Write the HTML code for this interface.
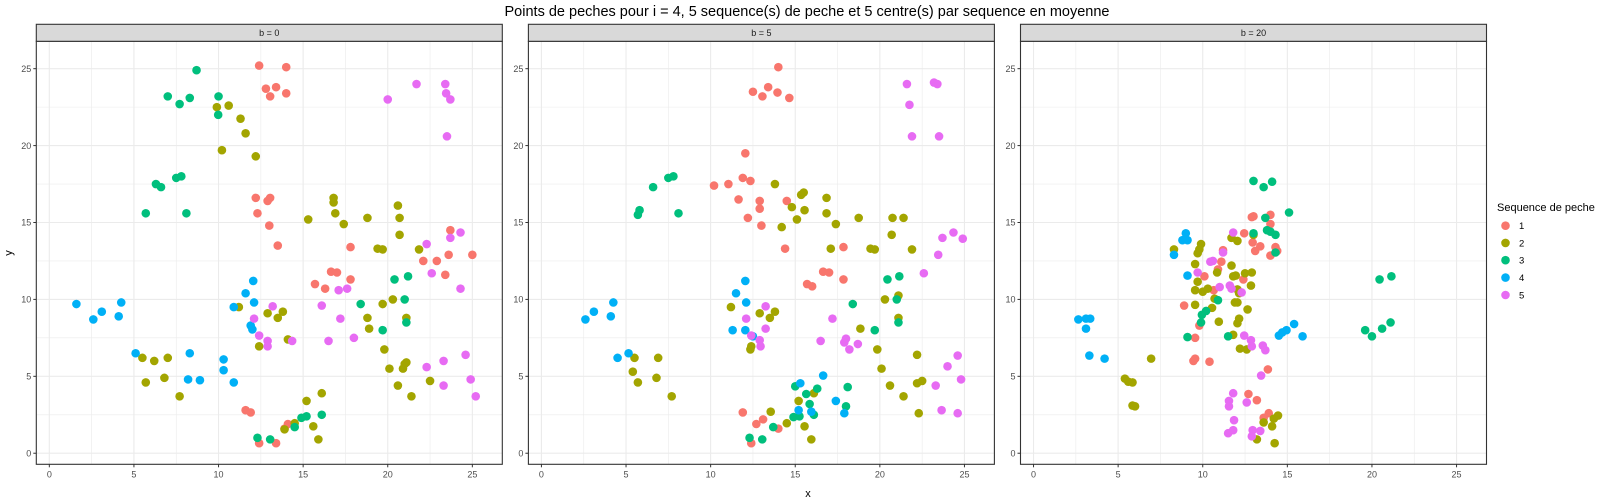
<!DOCTYPE html>
<html><head><meta charset="utf-8"><style>
html,body{margin:0;padding:0;background:#fff;}
svg{display:block;font-family:"Liberation Sans",Arial,sans-serif;}
</style></head><body>
<svg id="chart" width="1600" height="500" viewBox="0 0 1600 500" xmlns="http://www.w3.org/2000/svg">
<rect x="0" y="0" width="1600" height="500" fill="#fff"/>
<text x="807" y="16" font-size="14.5" text-anchor="middle" fill="#000">Points de peches pour i = 4, 5 sequence(s) de peche et 5 centre(s) par sequence en moyenne</text>
<text x="808" y="497" font-size="11" text-anchor="middle" fill="#000">x</text>
<text x="12" y="253" font-size="11" text-anchor="middle" fill="#000" transform="rotate(-90 12 253)">y</text>
<g id="panels"></g>
<g id="legend">
<text x="1497" y="211" font-size="11" fill="#000">Sequence de peche</text>
</g>
</svg>
<script>
const seqLabels = ["1","2","3","4","5"];
const seqColors = ["#F8766D","#A3A500","#00BF7D","#00B0F6","#E76BF3"];
const panelLabels = ["b = 0","b = 5","b = 20"];
const xTicks = [0,5,10,15,20,25];
const yTicks = [0,5,10,15,20,25];

const p1s1x = [12.4,14.0,12.8,13.4,13.05,14.0,12.2,12.9,13.05,12.3,13.0,13.5,17.8,23.7,22.1,22.9,23.6,25.0,23.4,16.65,17.0,17.8,15.7,16.3,11.6,11.9,14.1,13.9,12.4,13.4];
const p1s1y = [25.2,25.1,23.7,23.8,23.2,23.4,16.6,16.4,16.6,15.6,14.8,13.5,13.4,14.5,12.5,12.5,12.9,12.9,11.6,11.8,11.75,11.3,11.0,10.7,2.8,2.65,1.9,1.6,0.65,0.65];
const p1s2x = [9.9,10.6,11.3,11.6,10.2,12.2,16.8,16.8,16.9,17.4,15.3,18.8,20.6,20.7,20.7,19.4,19.7,21.85,20.3,19.7,18.8,18.9,21.1,19.8,20.1,20.9,21.0,21.1,20.6,22.5,21.4,11.2,12.9,13.8,13.5,14.1,12.4,5.5,6.2,7.0,5.7,6.8,7.7,16.1,15.2,15.6,15.9,14.5,13.9];
const p1s2y = [22.5,22.6,21.75,20.8,19.7,19.3,16.6,16.3,15.6,14.9,15.2,15.3,16.1,15.3,14.2,13.3,13.25,13.25,10.0,9.7,8.8,8.1,8.8,6.75,5.5,5.5,5.8,5.9,4.4,4.7,3.7,9.5,9.1,9.2,8.8,7.4,6.95,6.2,6.0,6.2,4.6,4.9,3.7,3.9,3.4,1.75,0.9,1.95,1.55];
const p1s3x = [8.7,7.0,7.7,8.3,10.0,9.98,7.5,7.8,6.3,6.6,5.7,8.1,20.4,21.2,18.4,21.0,21.1,19.7,14.9,15.2,16.1,14.5,12.3,13.05];
const p1s3y = [24.9,23.2,22.7,23.1,23.2,22.0,17.9,18.0,17.5,17.3,15.6,15.6,11.3,11.5,9.7,10.0,8.5,8.0,2.3,2.4,2.5,1.7,1.0,0.9];
const p1s4x = [1.6,2.6,3.1,4.1,4.25,5.1,8.3,8.2,8.9,10.3,10.3,10.9,12.05,11.6,12.1,10.9,11.9,12.0];
const p1s4y = [9.7,8.7,9.2,8.9,9.8,6.5,6.5,4.8,4.75,6.1,5.4,4.6,11.2,10.4,9.8,9.5,8.3,8.05];
const p1s5x = [21.7,23.4,23.45,23.7,20.0,23.5,24.3,23.7,22.3,22.6,24.3,17.1,17.6,16.1,13.2,12.1,17.2,12.4,12.9,12.9,14.35,16.5,18.0,24.6,23.3,22.3,23.3,24.9,25.2];
const p1s5y = [24.0,24.0,23.4,23.0,23.0,20.6,14.35,14.0,13.6,11.7,10.7,10.6,10.7,9.6,9.55,8.75,8.75,7.65,7.3,6.95,7.3,7.3,7.5,6.4,6.0,5.6,4.4,4.8,3.7];

const p2s1x = [14.0,12.5,13.4,13.06,13.95,14.65,12.05,11.9,12.35,10.2,11.05,11.65,12.9,12.9,12.2,13.0,14.5,14.4,17.85,16.65,17.0,17.85,15.7,16.0,11.9,12.7,13.1,14.0,12.4];
const p2s1y = [25.1,23.5,23.8,23.2,23.45,23.1,19.5,17.9,17.7,17.4,17.5,16.5,16.4,15.9,15.3,14.8,16.4,13.3,13.4,11.8,11.75,11.3,11.0,10.85,2.65,1.9,2.2,1.6,0.65];
const p2s2x = [13.8,15.35,15.5,15.55,14.8,15.1,14.2,16.85,16.85,17.4,17.1,18.75,20.75,21.4,20.7,19.45,19.7,21.9,20.3,21.1,21.1,18.85,19.85,20.1,20.6,21.4,22.2,22.2,22.5,22.3,11.2,12.9,13.8,13.5,12.4,12.35,5.5,6.9,5.4,5.7,6.8,7.7,16.1,15.2,13.55,14.5,15.55,15.95];
const p2s2y = [17.5,16.8,16.95,15.8,16.0,15.2,14.7,16.6,15.6,14.9,13.3,15.3,15.3,15.3,14.2,13.3,13.25,13.25,10.0,10.25,8.8,8.1,6.75,5.5,4.4,3.7,6.4,4.55,4.7,2.6,9.5,9.1,9.2,8.8,6.95,6.75,6.2,6.2,5.3,4.6,4.9,3.7,3.9,3.4,2.7,1.95,1.75,0.9];
const p2s3x = [7.5,7.8,6.6,5.7,5.8,8.1,20.45,21.15,18.4,21.0,21.1,19.7,15.0,15.65,16.3,18.1,15.85,14.9,15.25,16.1,18.0,13.7,12.3,13.05];
const p2s3y = [17.9,18.0,17.3,15.5,15.8,15.6,11.3,11.5,9.7,10.0,8.5,8.0,4.35,3.85,4.2,4.3,3.2,2.35,2.4,2.5,3.05,1.7,1.0,0.9];
const p2s4x = [2.6,3.1,4.1,4.25,4.5,5.15,12.05,11.5,12.1,11.3,12.05,12.5,16.65,15.3,17.4,15.2,15.95,17.9];
const p2s4y = [8.7,9.2,8.9,9.8,6.2,6.5,11.2,10.4,9.8,8.0,8.0,7.6,5.05,4.55,3.4,2.8,2.7,2.6];
const p2s5x = [21.6,23.2,23.4,21.75,21.9,23.5,24.35,23.7,24.9,23.45,22.6,17.2,16.5,17.9,18.0,18.2,18.7,13.25,12.1,13.25,12.4,12.9,12.95,24.0,24.6,24.8,23.3,23.65,24.6];
const p2s5y = [24.0,24.1,24.0,22.65,20.6,20.6,14.35,14.0,13.95,12.9,11.7,8.75,7.3,7.2,7.45,6.75,7.1,9.55,8.75,8.1,7.65,7.35,6.95,5.65,6.35,4.8,4.4,2.8,2.6];

const p3s1x = [12.9,13.0,14.0,14.0,12.45,12.95,13.1,13.4,14.3,14.4,14.0,11.2,11.1,10.9,10.1,12.4,10.65,8.9,9.8,9.55,9.45,9.55,10.4,13.85,12.7,13.2,13.6,13.9];
const p3s1y = [15.35,15.4,15.5,14.9,14.3,13.7,13.15,13.45,13.4,13.15,12.85,13.2,12.45,11.95,11.5,11.3,10.6,9.6,8.3,7.5,6.0,6.15,5.95,5.45,3.85,3.45,2.3,2.6];
const p3s2x = [8.3,9.9,9.8,9.7,9.55,11.7,12.05,13.0,11.7,11.8,11.95,12.5,12.9,12.85,10.85,9.7,9.55,10.0,10.3,10.7,12.05,12.15,9.55,10.55,11.9,12.05,12.65,10.95,12.15,12.05,11.8,12.2,12.6,6.95,5.4,5.6,5.85,5.85,6.0,13.6,14.1,14.2,14.45,13.2,14.25];
const p3s2y = [13.25,13.6,13.25,13.0,12.3,14.0,13.8,14.2,12.2,11.5,11.55,11.7,11.75,10.9,11.75,11.15,10.6,10.5,10.7,10.05,10.65,10.4,9.65,9.45,9.8,9.8,9.35,8.55,8.75,8.45,7.7,6.8,6.75,6.15,4.85,4.65,4.6,3.1,3.05,2.0,1.75,2.25,2.45,0.9,0.65];
const p3s3x = [13.0,13.6,14.1,15.1,13.7,13.8,14.0,14.3,13.0,14.3,10.9,9.95,10.2,9.9,9.1,11.5,20.45,21.15,19.6,20.0,20.6,21.1];
const p3s3y = [17.7,17.3,17.65,15.65,15.3,14.5,14.4,14.2,14.3,13.05,9.95,9.0,9.25,8.5,7.55,7.6,11.3,11.5,8.0,7.6,8.1,8.5];
const p3s4x = [2.65,3.1,3.35,3.1,3.3,4.2,9.0,8.8,9.1,8.3,9.1,14.5,14.7,14.95,15.4,15.9];
const p3s4y = [8.7,8.75,8.75,8.1,6.35,6.15,14.3,13.85,13.85,12.9,11.55,7.65,7.85,8.0,8.4,7.6];
const p3s5x = [11.8,11.2,10.45,10.6,9.7,11.0,11.6,11.7,12.3,12.45,12.85,12.9,13.55,13.7,13.45,11.8,11.55,11.55,12.6,11.85,11.5,11.8,12.95,13.4,12.9];
const p3s5y = [14.35,13.05,12.45,12.5,11.75,10.8,10.9,10.7,10.45,7.65,7.35,6.95,7.0,6.7,5.05,3.9,3.4,3.05,3.3,2.15,1.3,1.5,1.5,1.45,1.1];

const panelSeries = [
  [[p1s1x,p1s1y],[p1s2x,p1s2y],[p1s3x,p1s3y],[p1s4x,p1s4y],[p1s5x,p1s5y]],
  [[p2s1x,p2s1y],[p2s2x,p2s2y],[p2s3x,p2s3y],[p2s4x,p2s4y],[p2s5x,p2s5y]],
  [[p3s1x,p3s1y],[p3s2x,p3s2y],[p3s3x,p3s3y],[p3s4x,p3s4y],[p3s5x,p3s5y]]
];

const NS = "http://www.w3.org/2000/svg";
const PW = 466, PTOP = 41.3, PBOT = 464.3, STRIPTOP = 24.3;
const XMIN = -0.77, XMAX = 26.77, YMIN = -0.72, YMAX = 26.78;
function mk(tag, attrs, parent){ const e=document.createElementNS(NS,tag); for(const k in attrs) e.setAttribute(k,attrs[k]); parent.appendChild(e); return e; }
function xScale(left, v){ return left + (v - XMIN) / (XMAX - XMIN) * PW; }
function yScale(v){ return PBOT - (v - YMIN) / (YMAX - YMIN) * (PBOT - PTOP); }

const root = document.getElementById("panels");
for (let p = 0; p < 3; p++) {
  const left = 36.3 + p * 492.1;
  const g = mk("g", {}, root);
  
  
  // minor grid
  for (let v = 2.5; v < 27; v += 5) {
    const xl = mk("line", {x1:xScale(left,v), x2:xScale(left,v), y1:PTOP, y2:PBOT, stroke:"#ebebeb", "stroke-width":0.6}, g);
    
    
    const yl = mk("line", {x1:left, x2:left+PW, y1:yScale(v), y2:yScale(v), stroke:"#ebebeb", "stroke-width":0.6}, g);
    
    
  }
  xTicks.forEach(t => {
    const l = mk("line", {x1:xScale(left,t), x2:xScale(left,t), y1:PTOP, y2:PBOT, stroke:"#ebebeb", "stroke-width":1.1}, g);
    
    
    const tk = mk("line", {x1:xScale(left,t), x2:xScale(left,t), y1:PBOT, y2:PBOT+3, stroke:"#333", "stroke-width":1}, g);
    
    
    const tx = mk("text", {x:xScale(left,t), y:PBOT+13, "font-size":9, fill:"#4d4d4d", "text-anchor":"middle"}, g);
    tx.textContent = t;
    
    
  });
  yTicks.forEach(t => {
    const l = mk("line", {x1:left, x2:left+PW, y1:yScale(t), y2:yScale(t), stroke:"#ebebeb", "stroke-width":1.1}, g);
    
    
    const tk = mk("line", {x1:left-3, x2:left, y1:yScale(t), y2:yScale(t), stroke:"#333", "stroke-width":1}, g);
    
    
    const tx = mk("text", {x:left-5, y:yScale(t)+3.2, "font-size":9, fill:"#4d4d4d", "text-anchor":"end"}, g);
    tx.textContent = t;
    
    
  });
  panelSeries[p].forEach((s, si) => {
    const xs = s[0], ys = s[1];
    for (let i = 0; i < xs.length; i++) {
      const c = mk("circle", {cx:xScale(left,xs[i]), cy:yScale(ys[i]), r:4.3, fill:seqColors[si]}, g);
      
      
    }
  });
  const border = mk("rect", {x:left, y:PTOP, width:PW, height:PBOT-PTOP, fill:"none", stroke:"#333", "stroke-width":1.1}, g);
  
  
  const strip = mk("rect", {x:left, y:STRIPTOP, width:PW, height:PTOP-STRIPTOP, fill:"#d9d9d9", stroke:"#333", "stroke-width":1.1}, g);
  
  
  const st = mk("text", {x:left+PW/2, y:STRIPTOP+11.5, "font-size":9, fill:"#1a1a1a", "text-anchor":"middle"}, g);
  st.textContent = panelLabels[p];
  
  
}

const lg = document.getElementById("legend");
const legendY = [225.7, 242.9, 260.2, 277.6, 295];
seqLabels.forEach((lab, i) => {
  const c = mk("circle", {cx:1505.5, cy:legendY[i], r:4.3, fill:seqColors[i]}, lg);
  
  
  const t = mk("text", {x:1519, y:legendY[i]+3.5, "font-size":9.5, fill:"#000"}, lg);
  t.textContent = lab;
  
  
});
</script>
</body></html>
